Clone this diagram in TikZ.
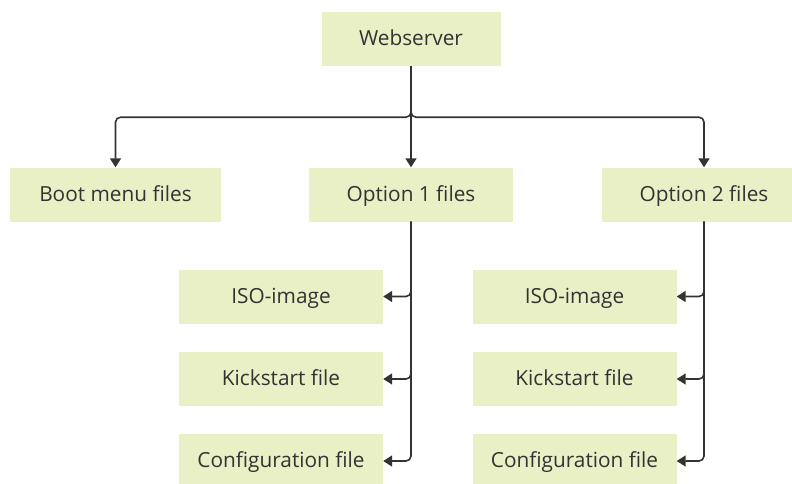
\documentclass[tikz,border=0pt]{standalone}
\usepackage{fontspec}
\setmainfont{Open Sans}
\usetikzlibrary{arrows.meta}
\definecolor{boxfill}{RGB}{233,240,197}
\definecolor{ink}{RGB}{51,51,51}
\begin{document}
\begin{tikzpicture}[x=1pt,y=-1pt,
  box/.style={fill=boxfill, text=ink, font=\fontsize{20.8}{24}\selectfont,
    text height=15pt, text depth=1.6pt,
    minimum height=54pt, minimum width=204pt, inner sep=0pt},
  link/.style={draw=ink, line width=1.6pt, rounded corners=5pt,
    -{Triangle[length=9pt,width=11pt]}}]
\useasboundingbox (0,0) rectangle (792,483);
% top level
\node[box, minimum width=179pt] (web) at (411,39) {Webserver};
% second level
\node[box, minimum width=211pt] (boot) at (115.5,194.5) {Boot menu files};
\node[box] (opt1) at (411,194.5) {Option 1 files};
\node[box] (opt2) at (704,194.5) {Option 2 files};
% files of option 1
\node[box] (iso1) at (281,296.5) {ISO-image};
\node[box] (ks1) at (281,379) {Kickstart file};
\node[box] (cfg1) at (281,461) {Configuration file};
% files of option 2
\node[box] (iso2) at (574.5,296.5) {ISO-image};
\node[box] (ks2) at (574.5,379) {Kickstart file};
\node[box] (cfg2) at (574.5,461) {Configuration file};
% connectors
\draw[link] (web.south) -- ++(0,51) -| (boot.north);
\draw[link] (web.south) -- (opt1.north);
\draw[link] (web.south) -- ++(0,51) -| (opt2.north);
\foreach \p/\c in {opt1/iso1, opt1/ks1, opt1/cfg1, opt2/iso2, opt2/ks2, opt2/cfg2}
  \draw[link] (\p.south) |- (\c.east);
\end{tikzpicture}
\end{document}
